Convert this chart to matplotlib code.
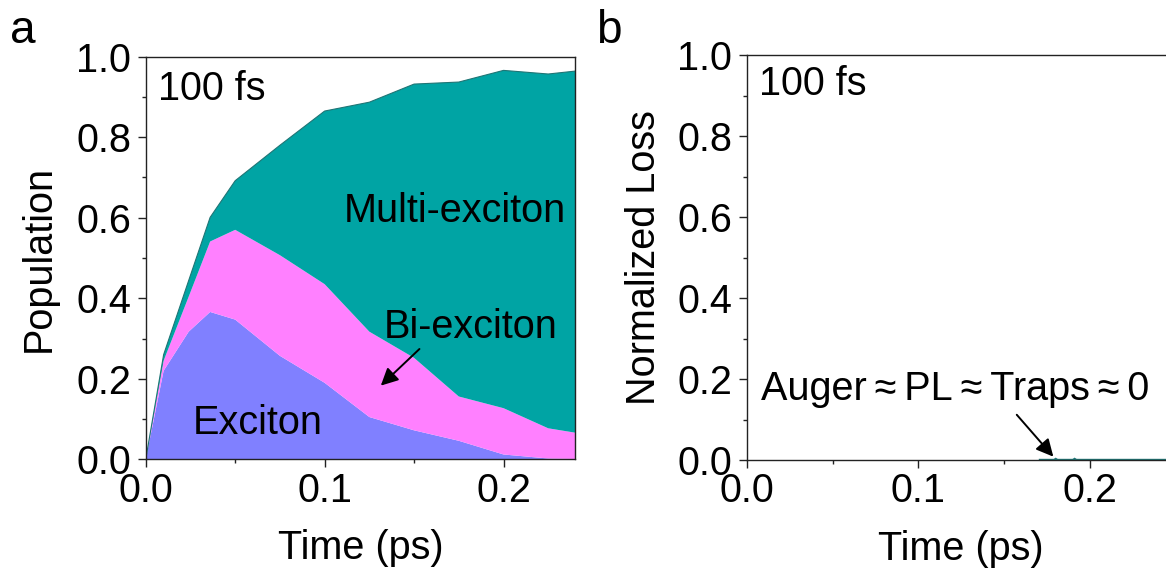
import matplotlib
matplotlib.use("Agg")
import matplotlib.pyplot as plt
from matplotlib.ticker import MultipleLocator, FormatStrFormatter

# Population dynamics after a 100 fs pulse (stacked)
time_ps = [0, 0.01, 0.024, 0.036, 0.05, 0.075, 0.1, 0.125, 0.15, 0.175, 0.2, 0.225, 0.25]
exciton = [0, 0.22, 0.317, 0.366, 0.347, 0.257, 0.19, 0.105, 0.072, 0.046, 0.012, 0.002, 0.0]
bi_exciton = [0, 0.025, 0.087, 0.175, 0.223, 0.25, 0.245, 0.212, 0.18, 0.11, 0.115, 0.075, 0.059]
multi_exciton = [0, 0.015, 0.04, 0.06, 0.122, 0.273, 0.43, 0.57, 0.68, 0.781, 0.839, 0.88, 0.91]

# Loss channels (all essentially zero)
loss_time_ps = [0, 0.05, 0.1, 0.15, 0.178, 0.18, 0.182, 0.189, 0.191, 0.193, 0.2, 0.25]
auger_loss = [0, 0, 0, 0, 0, 0.006, 0, 0, 0.006, 0, 0, 0]
pl_loss = [0, 0, 0, 0, 0, 0, 0, 0, 0, 0, 0, 0]
trap_loss = [0, 0, 0, 0, 0, 0, 0, 0, 0, 0, 0, 0]

plt.rcParams["font.family"] = ["Liberation Sans", "DejaVu Sans"]
FS = 28.5

C_EXC = "#8080FF"
C_BI = "#FF80FF"
C_MULTI = "#00A4A4"
C_EDGE = "#1F7575"

fig = plt.figure(figsize=(11.66, 5.75), dpi=100)
ax_a = fig.add_axes([0.1250, 0.2012, 0.3682, 0.7002])
ax_b = fig.add_axes([0.6404, 0.2000, 0.3681, 0.7043])


def style_axis(ax, xmax):
    ax.set_xlim(0, xmax)
    ax.set_ylim(0, 1.0)
    ax.xaxis.set_major_locator(MultipleLocator(0.1))
    ax.xaxis.set_minor_locator(MultipleLocator(0.05))
    ax.yaxis.set_major_locator(MultipleLocator(0.2))
    ax.yaxis.set_minor_locator(MultipleLocator(0.1))
    ax.xaxis.set_major_formatter(FormatStrFormatter("%.1f"))
    ax.yaxis.set_major_formatter(FormatStrFormatter("%.1f"))
    ax.tick_params(which="both", direction="out", width=1.0, colors="#222222",
                   labelcolor="black", labelsize=FS, top=False, right=False)
    ax.tick_params(which="major", length=5.5)
    ax.tick_params(which="minor", length=3.2)
    ax.tick_params(axis="x", which="major", pad=3.5)
    ax.tick_params(axis="y", which="major", pad=5)
    for sp in ax.spines.values():
        sp.set_linewidth(1.0)
        sp.set_color("#222222")
    ax.set_xlabel("Time (ps)", fontsize=FS)
    ax.xaxis.set_label_coords(0.5, -0.172)
    ax.xaxis.label.set_va("top")


# Panel a: stacked populations
ax_a.stackplot(time_ps, exciton, bi_exciton, multi_exciton,
               colors=[C_EXC, C_BI, C_MULTI], linewidth=0)
top_total = [e + b + m for e, b, m in zip(exciton, bi_exciton, multi_exciton)]
ax_a.plot(time_ps, top_total, color=C_EDGE, lw=0.8)
style_axis(ax_a, 0.24)
ax_a.set_ylabel("Population", fontsize=FS)
ax_a.yaxis.set_label_coords(-0.205, 0.5)

ax_a.text(0.029, 0.8925, "100 fs", transform=ax_a.transAxes, fontsize=FS,
          ha="left", va="baseline")
ax_a.text(0.1727, 0.590, "Multi-exciton", fontsize=FS, ha="center", va="baseline")
ax_a.text(0.1814, 0.3005, "Bi-exciton", fontsize=FS, ha="center", va="baseline")
ax_a.text(0.0628, 0.0628, "Exciton", fontsize=FS, ha="center", va="baseline")
ax_a.annotate("", xy=(0.1314, 0.183), xytext=(0.153, 0.274),
              arrowprops=dict(arrowstyle="-|>", mutation_scale=26, lw=1.4,
                              color="black", shrinkA=0, shrinkB=0))

# Panel b: normalized loss channels
ax_b.stackplot(loss_time_ps, auger_loss, pl_loss, trap_loss,
               colors=[C_EDGE, C_EDGE, C_EDGE], linewidth=0)
ax_b.plot([0.17, 0.25], [0.0015, 0.0015], color=C_EDGE, lw=1.0)
style_axis(ax_b, 0.25)
ax_b.spines["right"].set_visible(False)
ax_b.set_ylabel("Normalized Loss", fontsize=FS)
ax_b.yaxis.set_label_coords(-0.195, 0.5)

ax_b.text(0.029, 0.9015, "100 fs", transform=ax_b.transAxes, fontsize=FS,
          ha="left", va="baseline")
ax_b.text(0.1213, 0.149, "Auger\u2009\u2248\u2009PL\u2009\u2248\u2009Traps\u2009\u2248\u20090",
          fontsize=FS, ha="center", va="baseline")
ax_b.annotate("", xy=(0.1786, 0.0082), xytext=(0.1573, 0.1117),
              arrowprops=dict(arrowstyle="-|>", mutation_scale=26, lw=1.4,
                              color="black", shrinkA=0, shrinkB=0))

# Panel letters
fig.text(10 / 1166, 1 - 43 / 575, "a", fontsize=33, ha="left", va="baseline")
fig.text(596 / 1166, 1 - 43 / 575, "b", fontsize=33, ha="left", va="baseline")

fig.savefig("out.png", dpi=100)
